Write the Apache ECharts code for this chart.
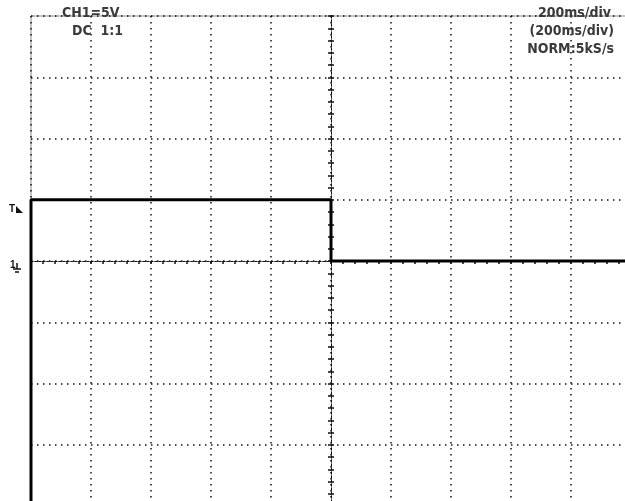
<!DOCTYPE html>
<html><head><meta charset="utf-8">
<script src="https://cdn.jsdelivr.net/npm/echarts@6/dist/echarts.min.js"></script>
<style>html,body{margin:0;padding:0;background:#fff;overflow:hidden;width:625px;height:501px}#c{width:632px;height:507px}</style>
</head><body><div id="c"></div>
<script>
// time in divisions (relative to screen centre), voltage in divisions (5 V/div)
const traceTime = [-5, -5, 0, 0, 5];
const traceVolt = [-4, 1, 1, 0, 0];
const infoLeft = ['CH1=5V', 'DC  1:1'];
const infoRight = ['200ms/div', '(200ms/div)', 'NORM:5kS/s'];

const gridDash = [1.5, 4.5];
const chart = echarts.init(document.getElementById('c'));
const mkX = (inside) => ({
  type: 'value', min: -5, max: 5, interval: 1, gridIndex: 0,
  axisLine: { show: true, onZero: true, lineStyle: { color: '#111', width: 1, type: [2, 2] } },
  minorTick: { show: true, splitNumber: 5, length: 3, lineStyle: { color: '#111', width: 1.5 } },
  axisLabel: { show: false },
  splitLine: { show: !inside, lineStyle: { color: '#111', width: 1.5, type: gridDash } },
  minorSplitLine: { show: false },
  axisTick: { show: true, inside: inside, length: 3, lineStyle: { color: '#111', width: 1.5 } }
});
const mkY = (inside) => ({
  type: 'value', min: -4, max: 4, interval: 1, gridIndex: 0,
  axisLine: { show: true, onZero: true, lineStyle: { color: '#111', width: 1, type: [2, 2] } },
  minorTick: { show: true, splitNumber: 5, length: 3, lineStyle: { color: '#111', width: 1.5 } },
  axisLabel: { show: false },
  splitLine: { show: !inside, lineStyle: { color: '#111', width: 1.5, type: gridDash } },
  axisTick: { show: true, inside: inside, length: 3, lineStyle: { color: '#111', width: 1.5 } }
});
const xA = mkX(false), xB = mkX(true);
const yA = mkY(false), yB = mkY(true);
yB.position = 'left';

const textStyleBase = { fill: '#3a3a3a', fontFamily: 'Liberation Sans Narrow, DejaVu Sans Condensed, Liberation Sans, sans-serif', fontWeight: 'bold', fontSize: 14 };
const graphics = [];
infoLeft.forEach((t, i) => graphics.push({ type: 'text', left: i === 0 ? 62 : 72, top: 6 + i * 18, style: Object.assign({ text: t }, textStyleBase), z: 10 }));
infoRight.forEach((t, i) => graphics.push({ type: 'text', right: i === 0 ? 21 : 18, top: 6 + i * 18, style: Object.assign({ text: t }, textStyleBase), z: 10 }));
// trigger-level marker
graphics.push({ type: 'text', left: 9, top: 204, style: { text: 'T', fill: '#111', font: 'bold 10px Liberation Sans, sans-serif' } });
graphics.push({ type: 'polygon', shape: { points: [[16, 213], [23, 213], [16, 206]] }, style: { fill: '#111' } });
// ground marker
graphics.push({ type: 'text', left: 10, top: 260, style: { text: '1', fill: '#111', font: 'bold 10px Liberation Sans, sans-serif' } });
graphics.push({ type: 'polyline', shape: { points: [[17, 263], [17, 269]] }, style: { stroke: '#111', lineWidth: 1.5 } });
graphics.push({ type: 'polyline', shape: { points: [[13, 269], [21, 269]] }, style: { stroke: '#111', lineWidth: 1.5 } });
graphics.push({ type: 'polyline', shape: { points: [[15, 272], [19, 272]] }, style: { stroke: '#111', lineWidth: 1.5 } });

chart.setOption({
  animation: false,
  backgroundColor: '#fff',
  grid: { left: 31, top: 16, width: 600, height: 490, show: true, borderColor: '#8a8a8a', borderWidth: 1, backgroundColor: 'transparent' },
  xAxis: [xA, xB],
  yAxis: [yA, yB],
  graphic: graphics,
  series: [{
    type: 'line', xAxisIndex: 0, yAxisIndex: 0, showSymbol: false, symbol: 'none',
    data: traceTime.map((t, i) => [t, traceVolt[i]]),
    lineStyle: { color: '#000', width: 3 }, z: 5, clip: true
  }]
});
</script></body></html>
